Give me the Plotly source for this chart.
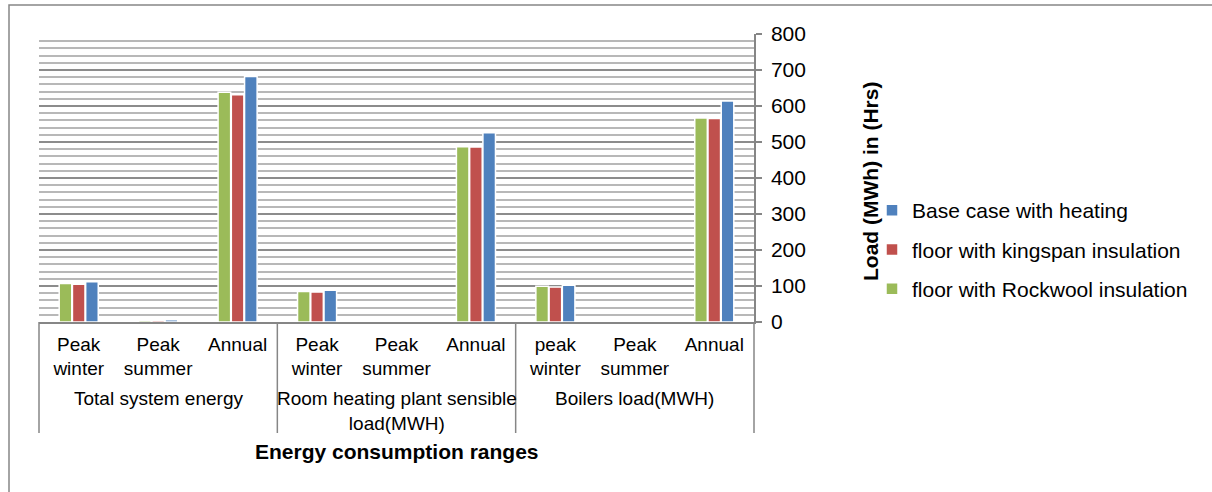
import plotly.graph_objects as go

# categories
group_names = ['Total system energy', 'Room heating plant sensible<br>load(MWH)', 'Boilers load(MWH)']
range_labels = ['Peak<br>winter', 'Peak<br>summer', 'Annual',
                'Peak<br>winter', 'Peak<br>summer', 'Annual',
                'peak<br>winter', 'Peak<br>summer', 'Annual']
# unique keys for the 9 category slots (group | range)
cat_keys = [f'{group_names[i // 3]}|{range_labels[i]}' for i in range(9)]

# series values (MWh)
rockwool = [107, 5, 638, 85, 0, 487, 99, 0, 567]
kingspan = [105, 5, 631, 83, 0, 486, 97, 0, 565]
base_case = [112, 6, 682, 88, 0, 526, 102, 3, 614]

series = [
    ('floor with Rockwool insulation', rockwool, '#9BBB59', 3),
    ('floor with kingspan insulation', kingspan, '#C0504D', 2),
    ('Base case with heating', base_case, '#4F81BD', 1),
]

FONT = 'Liberation Sans, Arial, sans-serif'
GRID = '#868686'

fig = go.Figure()
for name, vals, color, rank in series:
    fig.add_trace(go.Bar(
        x=cat_keys, y=vals, name=name,
        legendgroup=name, legendrank=rank,
        marker=dict(color=color, line=dict(color='white', width=1.5)),
    ))

# plot area in px: x 39..754, y 34..322
L, R, T, B = 39, 1212 - 754, 34, 492 - 322
pw, ph = 1212 - L - R, 492 - T - B

def px_x(px):
    return (px - L) / pw

def px_y(py):
    return (T + ph - py) / ph

fig.update_layout(
    width=1212, height=492,
    margin=dict(l=L, r=R, t=T, b=B),
    paper_bgcolor='white', plot_bgcolor='white',
    barmode='group', bargap=0.5, bargroupgap=0.05,
    font=dict(family=FONT, size=19, color='#000000'),
    legend=dict(
        traceorder='grouped', tracegroupgap=9,
        x=px_x(872), xanchor='left',
        y=px_y(190), yanchor='top',
        font=dict(size=21), itemwidth=30,
        bgcolor='rgba(0,0,0,0)',
    ),
    showlegend=True,
)

fig.update_xaxes(
    type='category',
    tickvals=cat_keys, ticktext=range_labels,
    showline=True, linecolor=GRID, linewidth=1.5,
    ticks='', ticklabelstandoff=4,
    tickfont=dict(size=19),
    showgrid=False,
)
fig.update_yaxes(
    side='right', range=[0, 800], dtick=100,
    showline=True, linecolor=GRID, linewidth=1.5,
    ticks='outside', ticklen=6, tickcolor=GRID, tickwidth=1.5,
    ticklabelstandoff=5,
    tickfont=dict(size=21),
    showgrid=True, gridcolor='#8c8c8c', gridwidth=1.5,
    minor=dict(dtick=20, showgrid=True, gridcolor='#b8b8b8', gridwidth=1.5),
    zeroline=False,
)

# group labels under the range labels, and dividers between groups
for g, name in enumerate(group_names):
    fig.add_annotation(
        text=name, xref='x', yref='paper',
        x=cat_keys[3 * g + 1], y=px_y(386), yanchor='top',
        showarrow=False, font=dict(size=19),
    )
for k in range(4):
    fig.add_shape(
        type='line', xref='paper', yref='paper',
        x0=k / 3, x1=k / 3, y0=0, y1=px_y(433),
        line=dict(color=GRID, width=1.5),
    )

# axis titles
fig.add_annotation(
    text='<b>Energy consumption ranges</b>',
    xref='paper', yref='paper', x=0.5, y=px_y(451),
    xanchor='center', yanchor='middle',
    showarrow=False, font=dict(size=21),
)
fig.add_annotation(
    text='<b>Load (MWh) in (Hrs)</b>', textangle=-90,
    xref='paper', yref='paper', x=px_x(870), y=px_y(182),
    xanchor='center', yanchor='middle',
    showarrow=False, font=dict(size=21),
)

# outer chart frame (only top and left edges fall inside the picture)
fig.add_shape(
    type='rect', xref='paper', yref='paper',
    x0=px_x(9), x1=px_x(1230),
    y0=px_y(520), y1=px_y(5),
    line=dict(color=GRID, width=1.5), layer='below',
)

fig.write_html('out.html', config={'displayModeBar': False},
               post_script="document.body.style.margin='0';")
